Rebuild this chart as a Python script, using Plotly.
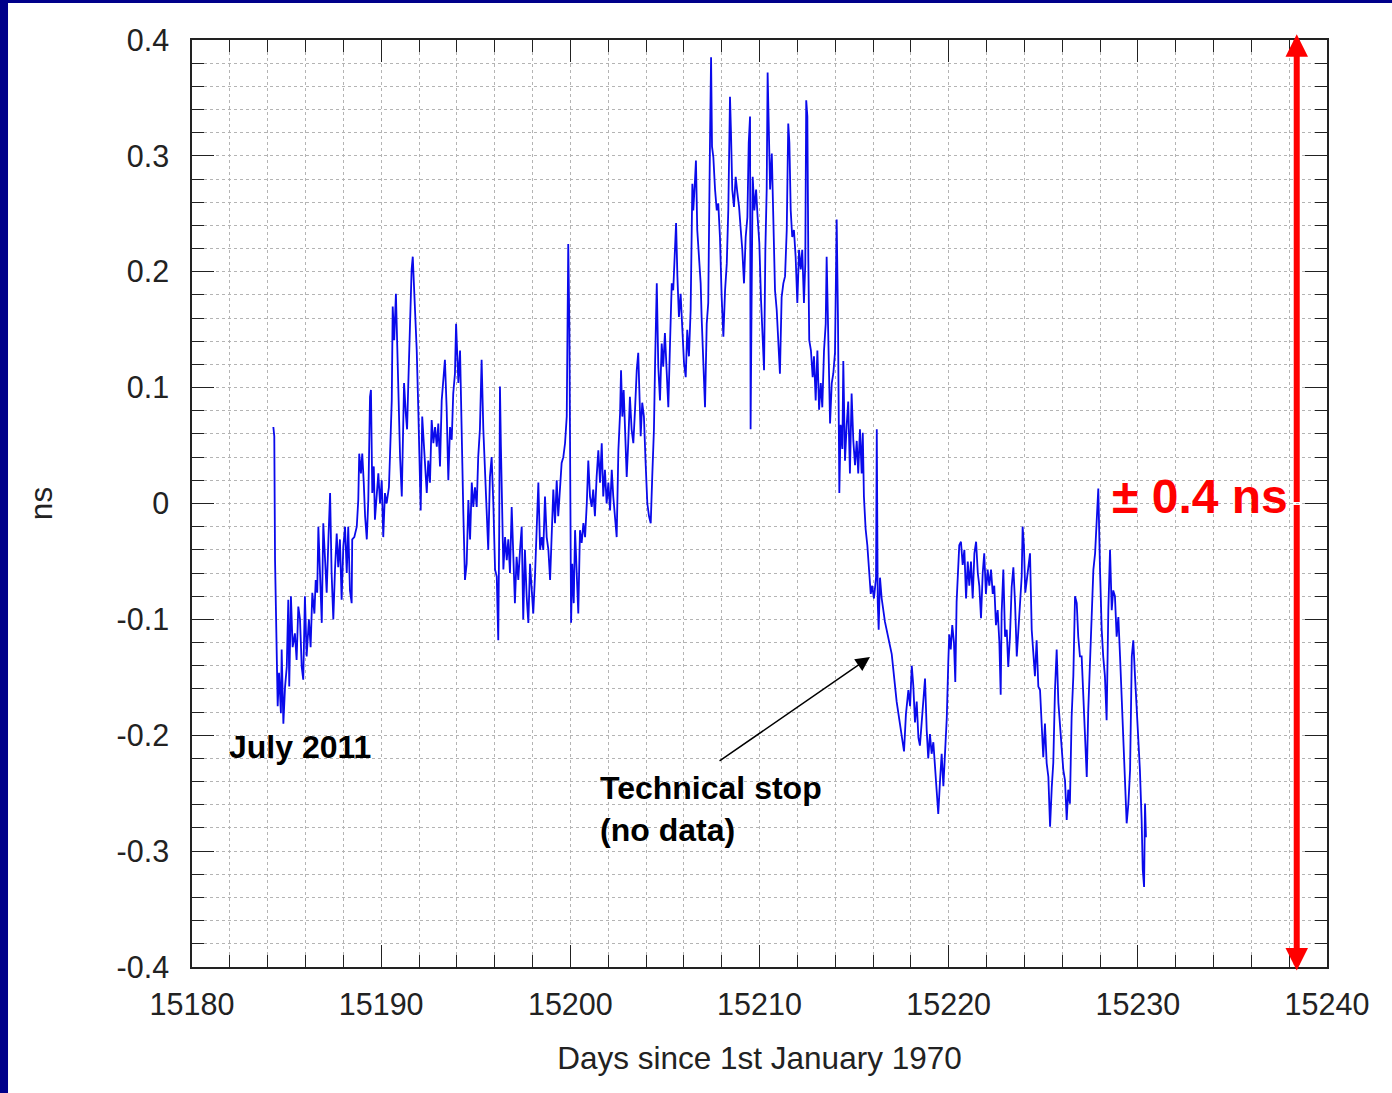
import plotly.graph_objects as go

# ---- data ----
days = [
    15184.30, 15184.35, 15184.39, 15184.44, 15184.53, 15184.60, 15184.70, 15184.74, 15184.83, 15184.92,
    15185.01, 15185.09, 15185.14, 15185.23, 15185.32, 15185.44, 15185.53, 15185.62, 15185.71, 15185.80,
    15185.88, 15185.97, 15186.06, 15186.18, 15186.27, 15186.36, 15186.47, 15186.54, 15186.62, 15186.68,
    15186.77, 15186.86, 15186.94, 15187.03, 15187.12, 15187.21, 15187.30, 15187.38, 15187.47, 15187.56,
    15187.65, 15187.73, 15187.82, 15187.91, 15188.00, 15188.09, 15188.18, 15188.26, 15188.35, 15188.44,
    15188.47, 15188.58, 15188.71, 15188.79, 15188.84, 15188.93, 15189.00, 15189.08, 15189.15, 15189.24,
    15189.32, 15189.41, 15189.46, 15189.53, 15189.61, 15189.67, 15189.76, 15189.85, 15189.94, 15190.03,
    15190.11, 15190.20, 15190.29, 15190.41, 15190.47, 15190.56, 15190.61, 15190.69, 15190.78, 15190.85,
    15190.91, 15191.00, 15191.09, 15191.14, 15191.21, 15191.30, 15191.37, 15191.43, 15191.52, 15191.61,
    15191.67, 15191.75, 15191.88, 15191.96, 15192.02, 15192.09, 15192.17, 15192.28, 15192.41, 15192.49,
    15192.58, 15192.67, 15192.76, 15192.85, 15192.94, 15193.02, 15193.11, 15193.20, 15193.28, 15193.37,
    15193.46, 15193.55, 15193.64, 15193.73, 15193.81, 15193.90, 15193.96,
    15194.08, 15194.17, 15194.22, 15194.29, 15194.34, 15194.43, 15194.52, 15194.61, 15194.70, 15194.79,
    15194.87, 15194.96, 15195.05, 15195.13, 15195.22, 15195.31, 15195.40, 15195.49, 15195.58, 15195.66,
    15195.75, 15195.84, 15195.93, 15196.02, 15196.11, 15196.19, 15196.24, 15196.28, 15196.33, 15196.39,
    15196.46, 15196.55, 15196.64, 15196.72, 15196.81, 15196.90, 15196.98, 15197.07, 15197.16, 15197.25,
    15197.34, 15197.43, 15197.51, 15197.60, 15197.69, 15197.78, 15197.87, 15197.96, 15198.04, 15198.13,
    15198.22, 15198.31, 15198.40, 15198.49, 15198.57, 15198.66, 15198.75, 15198.84, 15198.93, 15199.01,
    15199.10, 15199.19, 15199.28, 15199.36, 15199.45, 15199.54, 15199.63, 15199.72, 15199.81, 15199.86,
    15199.89, 15199.95, 15199.98, 15200.04, 15200.10, 15200.18, 15200.25, 15200.34, 15200.42, 15200.51,
    15200.60, 15200.69, 15200.78, 15200.87, 15200.95, 15201.04, 15201.13, 15201.21, 15201.30, 15201.39,
    15201.48, 15201.57, 15201.66, 15201.74, 15201.83, 15201.92, 15202.01, 15202.10, 15202.19, 15202.27,
    15202.36, 15202.45, 15202.54, 15202.63, 15202.68, 15202.75, 15202.82, 15202.89, 15202.98, 15203.06,
    15203.15, 15203.24, 15203.33, 15203.42, 15203.51, 15203.59, 15203.65, 15203.72, 15203.80, 15203.89,
    15203.98, 15204.07, 15204.16, 15204.25, 15204.33, 15204.42, 15204.48, 15204.57, 15204.65, 15204.74,
    15204.83, 15204.91, 15205.00, 15205.09, 15205.18, 15205.27, 15205.36, 15205.44, 15205.53, 15205.59,
    15205.66, 15205.74, 15205.83, 15205.92, 15206.01, 15206.10, 15206.18, 15206.27, 15206.36, 15206.45,
    15206.50, 15206.59, 15206.64, 15206.71, 15206.80, 15206.89, 15206.94, 15207.03, 15207.12, 15207.21,
    15207.29, 15207.38, 15207.44, 15207.49, 15207.56, 15207.65, 15207.74, 15207.82, 15207.91, 15208.00,
    15208.09, 15208.18, 15208.27, 15208.35, 15208.44, 15208.49, 15208.56, 15208.65, 15208.74, 15208.83,
    15208.92, 15209.01, 15209.09, 15209.18, 15209.27, 15209.36, 15209.43, 15209.50, 15209.53, 15209.59,
    15209.64, 15209.73, 15209.82, 15209.90, 15209.99, 15210.08, 15210.17, 15210.24, 15210.31, 15210.38,
    15210.43, 15210.50, 15210.56, 15210.65, 15210.73, 15210.82, 15210.91, 15210.99, 15211.08, 15211.17,
    15211.26, 15211.35, 15211.44, 15211.52, 15211.58, 15211.65, 15211.73, 15211.82, 15211.91, 15212.00,
    15212.09, 15212.18, 15212.26, 15212.35, 15212.42, 15212.47, 15212.53, 15212.58, 15212.63, 15212.72,
    15212.81, 15212.88, 15212.97, 15213.06, 15213.15, 15213.24, 15213.32, 15213.41, 15213.50, 15213.55,
    15213.64, 15213.73, 15213.82, 15213.90, 15213.99, 15214.08, 15214.15, 15214.22, 15214.29, 15214.38,
    15214.43, 15214.52, 15214.61, 15214.69, 15214.78, 15214.87, 15214.96, 15215.05, 15215.14, 15215.22,
    15215.31, 15215.40, 15215.46, 15215.52, 15215.61, 15215.70, 15215.79, 15215.88, 15215.96, 15216.05,
    15216.16, 15216.20, 15216.25, 15216.30, 15216.37, 15216.46, 15216.63, 15216.99, 15217.25, 15217.52,
    15217.64, 15217.74, 15217.87, 15217.96, 15218.05, 15218.13, 15218.22, 15218.31, 15218.40, 15218.48,
    15218.57, 15218.66, 15218.75, 15218.84, 15218.92, 15219.01, 15219.10, 15219.19, 15219.28, 15219.37,
    15219.45, 15219.54, 15219.63, 15219.72, 15219.81, 15219.90, 15219.98, 15220.03, 15220.11, 15220.19,
    15220.28, 15220.35, 15220.42, 15220.49, 15220.56, 15220.65, 15220.74, 15220.83, 15220.92, 15221.01,
    15221.09, 15221.18, 15221.27, 15221.36, 15221.45, 15221.54, 15221.62, 15221.71, 15221.80, 15221.88,
    15221.97, 15222.06, 15222.15, 15222.24, 15222.33, 15222.41, 15222.50, 15222.59, 15222.68, 15222.75,
    15222.80, 15222.89, 15222.98, 15223.07, 15223.15, 15223.24, 15223.33, 15223.42, 15223.51, 15223.60,
    15223.68, 15223.77, 15223.86, 15223.91, 15223.98, 15224.05, 15224.13, 15224.21, 15224.30, 15224.39,
    15224.47, 15224.56, 15224.65, 15224.74, 15224.83, 15224.92, 15225.00, 15225.09, 15225.18, 15225.27,
    15225.36, 15225.45, 15225.53, 15225.62, 15225.71, 15225.80, 15225.89, 15225.97, 15226.06, 15226.15,
    15226.24, 15226.32, 15226.41, 15226.50, 15226.59, 15226.68, 15226.77, 15226.85, 15226.94, 15227.03,
    15227.12, 15227.21, 15227.30, 15227.38, 15227.47, 15227.56, 15227.65, 15227.74, 15227.83, 15227.91,
    15228.00, 15228.09, 15228.17, 15228.26, 15228.35, 15228.44, 15228.53, 15228.62, 15228.70, 15228.79,
    15228.88, 15228.97, 15229.06, 15229.15, 15229.23, 15229.32, 15229.41, 15229.50, 15229.59, 15229.68,
    15229.76, 15229.85, 15229.94, 15230.02, 15230.11, 15230.20, 15230.26, 15230.33, 15230.38, 15230.43,
]

ns = [
    0.066, 0.058, -0.049, -0.103, -0.175, -0.146, -0.181, -0.126, -0.190, -0.158,
    -0.141, -0.083, -0.158, -0.080, -0.124, -0.112, -0.135, -0.089, -0.100, -0.141,
    -0.152, -0.080, -0.132, -0.100, -0.124, -0.077, -0.095, -0.066, -0.077, -0.020,
    -0.060, -0.103, -0.017, -0.055, -0.077, -0.031, 0.009, -0.060, -0.100, -0.057,
    -0.026, -0.055, -0.031, -0.083, -0.037, -0.020, -0.060, -0.020, -0.075, -0.086,
    -0.031, -0.029, -0.020, 0.003, 0.043, 0.026, 0.043, 0.018, -0.011, -0.031,
    0.003, 0.092, 0.098, 0.009, 0.032, -0.014, 0.009, 0.026, 0.000, 0.020,
    -0.029, 0.009, 0.000, 0.014, 0.043, 0.089, 0.170, 0.141, 0.181, 0.135,
    0.092, 0.040, 0.006, 0.061, 0.104, 0.078, 0.064, 0.101, 0.150, 0.202,
    0.213, 0.187, 0.132, 0.083, 0.040, -0.006, 0.075, 0.043, 0.009, 0.037,
    0.018, 0.072, 0.052, 0.066, 0.049, 0.069, 0.032, 0.089, 0.104, 0.124,
    0.083, 0.020, 0.066, 0.055, 0.095, 0.112, 0.155,
    0.104, 0.132, 0.075, 0.035, -0.006, -0.066, -0.052, 0.003, -0.031, 0.018,
    -0.003, 0.014, -0.003, 0.040, 0.064, 0.124, 0.064, 0.029, -0.003, -0.040,
    0.023, 0.040, 0.000, -0.057, -0.063, -0.118, -0.023, 0.101, 0.049, -0.017,
    -0.057, -0.029, -0.049, -0.031, -0.060, -0.003, -0.052, -0.086, -0.046, -0.066,
    -0.040, -0.020, -0.100, -0.040, -0.080, -0.103, -0.052, -0.080, -0.095, -0.063,
    -0.023, 0.018, -0.040, -0.029, -0.040, 0.006, -0.029, -0.040, -0.066, -0.034,
    0.012, -0.017, 0.020, -0.011, 0.018, 0.035, 0.040, 0.052, 0.075, 0.178,
    0.224, 0.150, 0.064, -0.103, -0.052, -0.086, -0.023, -0.069, -0.095, -0.023,
    -0.034, -0.017, -0.029, 0.000, 0.037, 0.006, -0.003, 0.012, -0.011, 0.023,
    0.046, 0.018, 0.052, 0.006, 0.029, 0.000, 0.018, -0.006, 0.029, 0.006,
    -0.011, -0.029, 0.046, 0.078, 0.115, 0.075, 0.098, 0.058, 0.023, 0.052,
    0.092, 0.064, 0.052, 0.081, 0.115, 0.130, 0.087, 0.058, 0.087, 0.075,
    0.035, 0.000, -0.011, -0.017, 0.023, 0.064, 0.121, 0.190, 0.118, 0.089,
    0.138, 0.118, 0.147, 0.115, 0.083, 0.138, 0.190, 0.184, 0.221, 0.242,
    0.196, 0.161, 0.181, 0.144, 0.121, 0.109, 0.150, 0.127, 0.167, 0.276,
    0.253, 0.279, 0.296, 0.236, 0.213, 0.190, 0.161, 0.121, 0.083, 0.155,
    0.173, 0.308, 0.385, 0.308, 0.299, 0.271, 0.253, 0.259, 0.230, 0.178,
    0.144, 0.184, 0.207, 0.253, 0.351, 0.322, 0.271, 0.256, 0.282, 0.268,
    0.256, 0.236, 0.219, 0.190, 0.230, 0.247, 0.311, 0.334, 0.064, 0.190,
    0.282, 0.253, 0.271, 0.247, 0.225, 0.176, 0.132, 0.115, 0.219, 0.271,
    0.372, 0.322, 0.271, 0.302, 0.230, 0.184, 0.167, 0.144, 0.112, 0.178,
    0.190, 0.196, 0.236, 0.328, 0.311, 0.253, 0.230, 0.236, 0.213, 0.173,
    0.219, 0.202, 0.219, 0.173, 0.207, 0.348, 0.334, 0.213, 0.141, 0.132,
    0.109, 0.127, 0.089, 0.132, 0.081, 0.104, 0.083, 0.132, 0.155, 0.213,
    0.121, 0.069, 0.104, 0.112, 0.130, 0.245, 0.158, 0.009, 0.068, 0.047,
    0.123, 0.037, 0.068, 0.088, 0.026, 0.095, 0.054, 0.033, 0.054, 0.026,
    0.064, 0.026, 0.061, 0.006, -0.022, -0.036, -0.057, -0.078, -0.071, -0.082,
    -0.064, 0.064, -0.085, -0.109, -0.064, -0.082, -0.102, -0.130, -0.171, -0.199,
    -0.214, -0.182, -0.161, -0.175, -0.140, -0.157, -0.189, -0.171, -0.202, -0.209,
    -0.189, -0.171, -0.151, -0.196, -0.220, -0.199, -0.216, -0.206, -0.230, -0.247,
    -0.268, -0.240, -0.216, -0.244, -0.216, -0.185, -0.137, -0.113, -0.126, -0.105,
    -0.120, -0.154, -0.085, -0.060, -0.036, -0.033, -0.053, -0.040, -0.082, -0.050,
    -0.071, -0.050, -0.082, -0.043, -0.033, -0.060, -0.071, -0.099, -0.060, -0.043,
    -0.078, -0.057, -0.071, -0.057, -0.078, -0.071, -0.105, -0.092, -0.120, -0.165,
    -0.095, -0.057, -0.115, -0.109, -0.141, -0.115, -0.072, -0.055, -0.086, -0.132,
    -0.109, -0.086, -0.063, -0.020, -0.037, -0.077, -0.066, -0.057, -0.043, -0.109,
    -0.132, -0.149, -0.118, -0.158, -0.161, -0.198, -0.219, -0.190, -0.224, -0.236,
    -0.279, -0.245, -0.224, -0.161, -0.126, -0.172, -0.190, -0.207, -0.230, -0.239,
    -0.273, -0.247, -0.259, -0.184, -0.149, -0.080, -0.086, -0.115, -0.132, -0.132,
    -0.167, -0.196, -0.236, -0.178, -0.138, -0.103, -0.057, -0.043, -0.008, 0.013,
    -0.057, -0.109, -0.132, -0.149, -0.187, -0.092, -0.040, -0.092, -0.075, -0.080,
    -0.115, -0.098, -0.132, -0.172, -0.213, -0.253, -0.276, -0.259, -0.230, -0.132,
    -0.118, -0.149, -0.178, -0.207, -0.230, -0.273, -0.316, -0.331, -0.259, -0.288,
]

x_tick_vals = [15180, 15190, 15200, 15210, 15220, 15230, 15240]
x_tick_text = ["15180", "15190", "15200", "15210", "15220", "15230", "15240"]
y_tick_vals = [-0.4, -0.3, -0.2, -0.1, 0.0, 0.1, 0.2, 0.3, 0.4]
y_tick_text = ["-0.4", "-0.3", "-0.2", "-0.1", "0", "0.1", "0.2", "0.3", "0.4"]

x_range = [15180, 15240]
y_range = [-0.4, 0.4]

span_x = 15238.4          # position of the red +/- arrow
span_top, span_bottom, span_mid = 0.405, -0.403, 0.0
span_label = "± 0.4 ns"
span_label_pos = (15233.3, 0.006)

july_label = "July 2011"
july_pos = (15185.71, -0.210)

stop_label = "Technical stop<br>(no data)"
stop_text_pos = (15201.46, -0.2636)
stop_arrow_tail = (15207.81, -0.2231)
stop_arrow_tip = (15215.84, -0.1325)

FONT = "Liberation Sans, Arial, sans-serif"
AX = "#222222"
GRID = "#b4b4b4"

fig = go.Figure()
fig.add_trace(go.Scatter(
    x=days, y=ns, mode="lines",
    line=dict(color="rgb(10,10,235)", width=1.8),
    showlegend=False,
))

axis_common = dict(
    ticks="inside", tickcolor=AX, tickwidth=1.2,
    showline=True, linecolor=AX, linewidth=1.5, mirror="allticks",
    showgrid=True, gridcolor=GRID, gridwidth=1, griddash="3px,3px",
    zeroline=False,
    tickfont=dict(family=FONT, size=30.5, color=AX),
)

fig.update_xaxes(
    range=x_range, tickmode="array", tickvals=x_tick_vals, ticktext=x_tick_text,
    ticklen=22, ticklabelstandoff=10,
    minor=dict(tickmode="linear", tick0=15180, dtick=2, ticks="inside", ticklen=12,
               tickcolor=AX, tickwidth=1.2, showgrid=True, gridcolor=GRID,
               griddash="3px,3px", gridwidth=1),
    title=dict(text="Days since 1st January 1970", font=dict(family=FONT, size=31.5, color=AX), standoff=27),
    automargin=False,
    **axis_common,
)
fig.update_yaxes(
    range=y_range, tickmode="array", tickvals=y_tick_vals, ticktext=y_tick_text,
    ticklen=22, ticklabelstandoff=15,
    minor=dict(tickmode="linear", tick0=-0.4, dtick=0.02, ticks="inside", ticklen=12,
               tickcolor=AX, tickwidth=1.2, showgrid=True, gridcolor=GRID,
               griddash="3px,3px", gridwidth=1),
    title=dict(text="ns", font=dict(family=FONT, size=31.5, color=AX), standoff=55),
    automargin=False,
    **axis_common,
)

annotations = [
    # red double arrow (two halves from the middle)
    dict(x=span_x, y=span_top, ax=span_x, ay=span_mid, xref="x", yref="y", axref="x", ayref="y",
         text="", showarrow=True, arrowhead=2, arrowsize=0.75, arrowwidth=6, arrowcolor="#ff0000"),
    dict(x=span_x, y=span_bottom, ax=span_x, ay=span_mid, xref="x", yref="y", axref="x", ayref="y",
         text="", showarrow=True, arrowhead=2, arrowsize=0.75, arrowwidth=6, arrowcolor="#ff0000"),
    dict(x=span_label_pos[0], y=span_label_pos[1], xref="x", yref="y", text=span_label, showarrow=False,
         xanchor="center", yanchor="middle",
         font=dict(family=FONT, size=48, color="#ff0000", weight="bold")),
    dict(x=july_pos[0], y=july_pos[1], xref="x", yref="y", text=july_label, showarrow=False,
         xanchor="center", yanchor="middle",
         font=dict(family=FONT, size=32, color="#000000", weight="bold")),
    dict(x=stop_text_pos[0], y=stop_text_pos[1], xref="x", yref="y", text=stop_label, showarrow=False,
         xanchor="left", yanchor="middle", align="left",
         font=dict(family=FONT, size=32, color="#000000", weight="bold")),
    dict(x=stop_arrow_tip[0], y=stop_arrow_tip[1], ax=stop_arrow_tail[0], ay=stop_arrow_tail[1],
         xref="x", yref="y", axref="x", ayref="y", text="", showarrow=True,
         arrowhead=2, arrowsize=1.9, arrowwidth=1.5, arrowcolor="#000000"),
]

fig.update_layout(
    width=1392, height=1093,
    margin=dict(l=192, r=65, t=40, b=126, autoexpand=False),
    paper_bgcolor="#00008a",
    plot_bgcolor="white",
    annotations=annotations,
    shapes=[dict(type="rect", xref="paper", yref="paper",
                 x0=-0.1621, x1=1.2, y0=-0.3, y1=1.0399,
                 fillcolor="white", line=dict(width=0), layer="below")],
    showlegend=False,
)

fig.write_html("out.html",
               config={"displayModeBar": False},
               post_script="document.body.style.margin='0px'; document.body.style.overflow='hidden';")
